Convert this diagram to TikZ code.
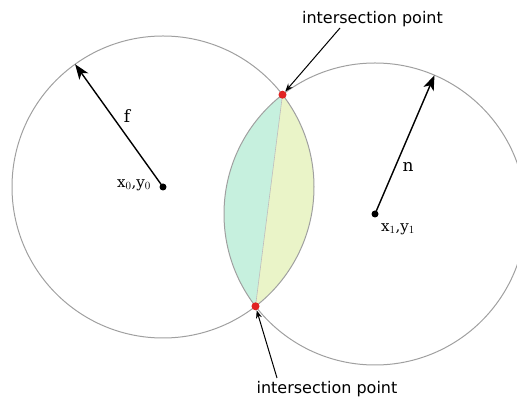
\documentclass[tikz,border=0pt]{standalone}
\usepackage{fontspec}
\setmainfont{DejaVu Serif}
\newfontfamily\labelfont{DejaVu Sans}
\usetikzlibrary{arrows.meta,calc}
\definecolor{circlegray}{RGB}{160,160,160}
\definecolor{lensgreen}{RGB}{198,240,222}
\definecolor{lensyellow}{RGB}{234,244,200}
\definecolor{ipred}{RGB}{225,35,35}
\tikzset{
  circ/.style={draw=circlegray, line width=1pt},
  radius arrow/.style={black, line width=1.4pt, -{Stealth[length=15pt,width=11pt,inset=4pt]}},
  pointer/.style={black, line width=1pt, -{Stealth[length=8pt,width=6pt]}},
  centerdot/.style={circle, fill=black, inner sep=0pt, minimum size=7pt},
  reddot/.style={circle, fill=ipred, inner sep=0pt, minimum size=8pt},
  iplabel/.style={font=\labelfont\fontsize{16}{19}\selectfont},
  mathlabel/.style={font=\fontsize{17}{20}\selectfont},
  coordlabel/.style={font=\fontsize{15}{18}\selectfont}
}
\begin{document}
\begin{tikzpicture}[x=1pt,y=1pt]
\useasboundingbox (0,0) rectangle (517,401);
\coordinate (C0) at (163,214);
\coordinate (C1) at (375,187);
\coordinate (T) at (282.5,306.3);
\coordinate (B) at (255.5,94.7);
% lens fills
\begin{scope}
  \clip (C0) circle (151);
  \clip (C1) circle (151);
  \fill[lensgreen] (T) -- (B) -- (0,94.7) -- (0,306.3) -- cycle;
  \fill[lensyellow] (T) -- (B) -- (517,94.7) -- (517,306.3) -- cycle;
\end{scope}
\draw[circlegray!70, line width=0.6pt] (T) -- (B);
\draw[circ] (C0) circle (151);
\draw[circ] (C1) circle (151);
% radius arrows
\coordinate (F) at ($(C0)+(125.6:151)$);
\coordinate (N) at ($(C1)+(66.8:151)$);
\draw[radius arrow] (C0) -- (F);
\draw[radius arrow] (C1) -- (N);
\node[centerdot] (c0dot) at (C0) {};
\node[centerdot] (c1dot) at (C1) {};
\node[mathlabel] (flab) at (127,285) {f};
\node[mathlabel] (nlab) at (408,234) {n};
\node[coordlabel] (xy0) at (134,216) {x$_0$,y$_0$};
\node[coordlabel] (xy1) at (398,172) {x$_1$,y$_1$};
% intersection points
\node[reddot] (top) at (T) {};
\node[reddot] (bot) at (B) {};
\node[iplabel] (toplab) at (372.5,382) {intersection point};
\node[iplabel] (botlab) at (327,12) {intersection point};
\coordinate (ta) at (340,373);
\coordinate (ba) at (277,23);
\draw[pointer] (ta) -- (top);
\draw[pointer] (ba) -- (bot);
\end{tikzpicture}
\end{document}
